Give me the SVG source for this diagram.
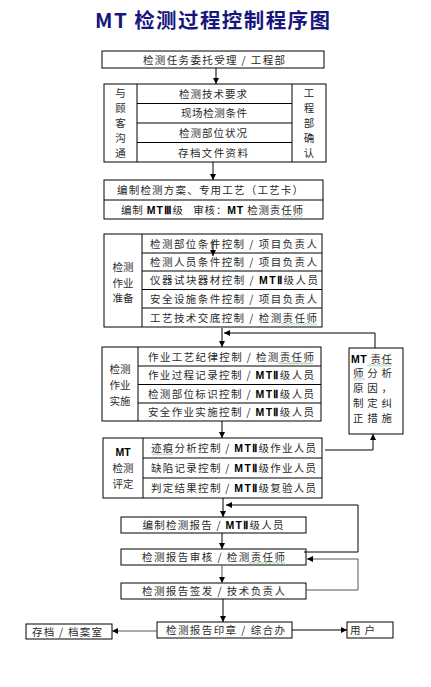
<svg xmlns="http://www.w3.org/2000/svg" width="431" height="687" viewBox="0 0 431 687">
<style>
.bx{fill:#fff;stroke:#000;stroke-width:1}
.ln{fill:none;stroke:#000;stroke-width:1}
.t{font-family:"Noto Sans CJK SC","Liberation Sans",sans-serif;font-size:10.5px;fill:#2a2a2a;text-anchor:middle;white-space:pre}
.tl{font-family:"Noto Sans CJK SC","Liberation Sans",sans-serif;font-size:10.5px;fill:#2a2a2a;white-space:pre}
.b{font-family:"Liberation Sans",sans-serif;font-weight:bold;fill:#000}
.c{stroke:#000;stroke-width:1;fill:none}
.g{stroke:#555;stroke-width:1;fill:none}
</style>
<defs>
<marker id="ah" viewBox="0 0 8 8" refX="8" refY="4" markerWidth="6" markerHeight="6" orient="auto" markerUnits="userSpaceOnUse">
<path d="M0,0 L8,4 L0,8 Z" fill="#000"/>
</marker>
<pattern id="wv" width="4" height="2.4" patternUnits="userSpaceOnUse">
<path d="M0,0.3 L2,2 L4,0.3" stroke="#3c9a3c" stroke-width="0.7" fill="none"/>
</pattern>
</defs>
<rect width="431" height="687" fill="#fff"/>

<text x="212.5" y="27.5" text-anchor="middle" textLength="235" font-family="'Noto Sans CJK SC','Liberation Sans',sans-serif" font-size="20.5" font-weight="bold" fill="#16167e">MT 检测过程控制程序图</text>

<g id="n1">
<rect class="bx" x="102" y="51" width="222" height="17"/>
<text class="t" x="214" y="63.5" textLength="142">检测任务委托受理 / 工程部</text>
</g>

<g id="n2">
<rect class="bx" x="104" y="84" width="222" height="78"/>
<line class="ln" x1="137" y1="84" x2="137" y2="162"/>
<line class="ln" x1="292" y1="84" x2="292" y2="162"/>
<line class="ln" x1="137" y1="103.5" x2="292" y2="103.5"/>
<line class="ln" x1="137" y1="123" x2="292" y2="123"/>
<line class="ln" x1="137" y1="142.5" x2="292" y2="142.5"/>
<text class="t" x="213" y="97.5" textLength="68">检测技术要求</text>
<text class="t" x="214" y="117" textLength="66">现场检测条件</text>
<text class="t" x="213" y="137" textLength="68">检测部位状况</text>
<text class="t" x="213" y="156.5" textLength="70">存档文件资料</text>
<text class="t" x="120.5" y="97">与</text>
<text class="t" x="120.5" y="112">顾</text>
<text class="t" x="120.5" y="127">客</text>
<text class="t" x="120.5" y="142">沟</text>
<text class="t" x="120.5" y="157">通</text>
<text class="t" x="309" y="97">工</text>
<text class="t" x="309" y="112">程</text>
<text class="t" x="309" y="127">部</text>
<text class="t" x="309" y="142">确</text>
<text class="t" x="309" y="157">认</text>
</g>

<g id="n3">
<rect class="bx" x="104" y="180" width="219" height="39"/>
<line class="ln" x1="104" y1="200" x2="323" y2="200"/>
<text class="t" x="210" y="194" textLength="186">编制检测方案、专用工艺（工艺卡）</text>
<text class="t" x="212" y="213.5" textLength="182">编制 <tspan class="b">MTⅢ</tspan>级   审核：<tspan class="b">MT</tspan> 检测责任师</text>
<rect x="282" y="215" width="21" height="2.4" fill="url(#wv)"/>
</g>

<g id="n4">
<rect class="bx" x="104" y="234" width="218" height="93"/>
<line class="ln" x1="142" y1="234" x2="142" y2="327"/>
<line class="ln" x1="142" y1="253" x2="322" y2="253"/>
<line class="ln" x1="142" y1="271" x2="322" y2="271"/>
<line class="ln" x1="142" y1="289.5" x2="322" y2="289.5"/>
<line class="ln" x1="142" y1="308" x2="322" y2="308"/>
<text class="t" x="233.5" y="247.5" textLength="167">检测部位条件控制 / 项目负责人</text>
<text class="t" x="233.5" y="266" textLength="167">检测人员条件控制 / 项目负责人</text>
<text class="t" x="234" y="284" textLength="168">仪器试块器材控制 / <tspan class="b">MTⅡ</tspan>级人员</text>
<text class="t" x="233.5" y="302.5" textLength="167">安全设施条件控制 / 项目负责人</text>
<text class="t" x="233.5" y="321.5" textLength="167">工艺技术交底控制 / 检测责任师</text>
<rect x="281" y="323" width="36" height="2.4" fill="url(#wv)"/>
<text class="t" x="123" y="271">检测</text>
<text class="t" x="123" y="287">作业</text>
<text class="t" x="123" y="302">准备</text>
</g>

<g id="n5">
<rect class="bx" x="102" y="347" width="219" height="74"/>
<line class="ln" x1="138" y1="347" x2="138" y2="421"/>
<line class="ln" x1="138" y1="366" x2="321" y2="366"/>
<line class="ln" x1="138" y1="384.5" x2="321" y2="384.5"/>
<line class="ln" x1="138" y1="403" x2="321" y2="403"/>
<text class="t" x="231" y="360.5" textLength="166">作业工艺纪律控制 / 检测责任师</text>
<text class="t" x="231" y="379" textLength="166">作业过程记录控制 / <tspan class="b">MTⅡ</tspan>级人员</text>
<text class="t" x="231" y="397.5" textLength="166">检测部位标识控制 / <tspan class="b">MTⅡ</tspan>级人员</text>
<text class="t" x="231" y="416" textLength="166">安全作业实施控制 / <tspan class="b">MTⅡ</tspan>级人员</text>
<rect x="278" y="362" width="35" height="2.4" fill="url(#wv)"/>
<text class="t" x="120" y="373">检测</text>
<text class="t" x="120" y="389">作业</text>
<text class="t" x="120" y="405">实施</text>
</g>

<g id="n6">
<rect class="bx" x="349" y="348" width="54" height="86"/>
<text class="tl" x="351" y="363" textLength="41"><tspan class="b">MT</tspan> 责任</text>
<text class="tl" x="353" y="377" textLength="39">师分析</text>
<text class="tl" x="353" y="392" textLength="39">原因，</text>
<text class="tl" x="353" y="407" textLength="39">制定纠</text>
<text class="tl" x="353" y="422" textLength="39">正措施</text>
<rect x="367" y="364" width="25" height="2.4" fill="url(#wv)"/>
<rect x="353" y="378" width="12" height="2.4" fill="url(#wv)"/>
</g>

<g id="n7">
<rect class="bx" x="103" y="438" width="219" height="60"/>
<line class="ln" x1="143" y1="438" x2="143" y2="498"/>
<line class="ln" x1="143" y1="458" x2="322" y2="458"/>
<line class="ln" x1="143" y1="478" x2="322" y2="478"/>
<text class="t" x="233.5" y="452" textLength="165">迹痕分析控制 / <tspan class="b">MTⅡ</tspan>级作业人员</text>
<text class="t" x="233.5" y="472" textLength="165">缺陷记录控制 / <tspan class="b">MTⅡ</tspan>级作业人员</text>
<text class="t" x="233.5" y="492" textLength="165">判定结果控制 / <tspan class="b">MTⅡ</tspan>级复验人员</text>
<rect x="152" y="453" width="21" height="2.4" fill="url(#wv)"/>
<text class="t" x="123" y="456"><tspan class="b">MT</tspan></text>
<text class="t" x="123" y="472">检测</text>
<text class="t" x="123" y="488">评定</text>
</g>

<g id="n8">
<rect class="bx" x="121" y="517" width="185" height="16"/>
<text class="t" x="213" y="529" textLength="141">编制检测报告 / <tspan class="b">MTⅡ</tspan>级人员</text>
</g>

<g id="n9">
<rect class="bx" x="121" y="549" width="185" height="16"/>
<text class="t" x="213.5" y="561" textLength="143">检测报告审核 / 检测责任师</text>
<rect x="249" y="562" width="36" height="2.4" fill="url(#wv)"/>
</g>

<g id="n10">
<rect class="bx" x="121" y="583" width="185" height="16"/>
<text class="t" x="213.5" y="595" textLength="143">检测报告签发 / 技术负责人</text>
</g>

<g id="n11">
<rect class="bx" x="157" y="622" width="135" height="16"/>
<text class="t" x="225.5" y="634" textLength="119">检测报告印章 / 综合办</text>
</g>

<g id="n12">
<rect class="bx" x="26" y="624" width="86" height="15"/>
<text class="t" x="67" y="636" textLength="70">存档 / 档案室</text>
</g>

<g id="n13">
<rect class="bx" x="347" y="622" width="46" height="16"/>
<text class="tl" x="350" y="634" textLength="25">用户</text>
</g>

<g id="connectors">
<line class="c" x1="216" y1="68" x2="216" y2="84" marker-end="url(#ah)"/>
<line class="c" x1="213" y1="162" x2="213" y2="180" marker-end="url(#ah)"/>
<line class="c" x1="213" y1="241" x2="213" y2="256" marker-end="url(#ah)"/>
<line class="c" x1="222" y1="328" x2="222" y2="347" marker-end="url(#ah)"/>
<polyline class="c" points="375,348 375,333 224,333" marker-end="url(#ah)"/>
<line class="c" x1="222" y1="421" x2="222" y2="438" marker-end="url(#ah)"/>
<polyline class="c" points="325,450 373,450 373,434" marker-end="url(#ah)"/>
<line class="c" x1="223" y1="498" x2="223" y2="517" marker-end="url(#ah)"/>
<polyline class="c" points="304,552 358,552 358,505 226,505" marker-end="url(#ah)"/>
<line class="c" x1="222" y1="533" x2="222" y2="549" marker-end="url(#ah)"/>
<line class="g" x1="222" y1="565" x2="222" y2="583" marker-end="url(#ah)"/>
<polyline class="g" points="306,590 358,590 358,559 307,559" marker-end="url(#ah)"/>
<line class="c" x1="223" y1="599" x2="223" y2="622" marker-end="url(#ah)"/>
<line class="g" x1="157" y1="631" x2="112" y2="631" marker-end="url(#ah)"/>
<line class="c" x1="292" y1="630" x2="347" y2="630" marker-end="url(#ah)"/>
</g>
</svg>
